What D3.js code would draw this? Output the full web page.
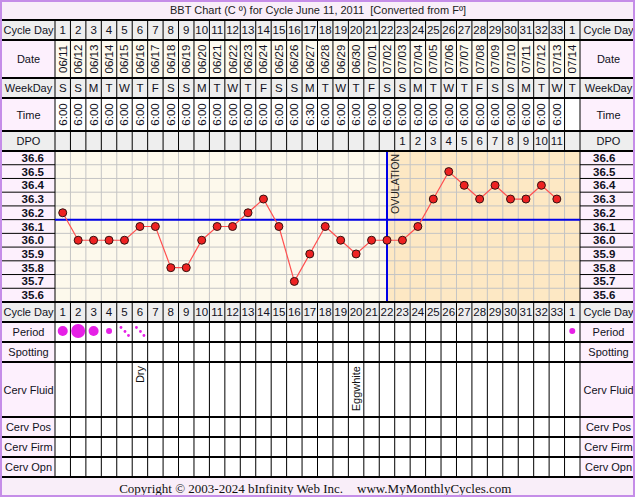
<!DOCTYPE html>
<html><head><meta charset="utf-8">
<script src="https://cdn.jsdelivr.net/npm/d3@7"></script>
<style>body{margin:0;background:#fff}svg{display:block}text{font-family:"Liberation Sans",Arial,sans-serif;white-space:pre}</style>
</head><body>
<script>
const cycleDays = ["1","2","3","4","5","6","7","8","9","10","11","12","13","14","15","16","17","18","19","20","21","22","23","24","25","26","27","28","29","30","31","32","33","1"];
const dates = ["06/11","06/12","06/13","06/14","06/15","06/16","06/17","06/18","06/19","06/20","06/21","06/22","06/23","06/24","06/25","06/26","06/27","06/28","06/29","06/30","07/01","07/02","07/03","07/04","07/05","07/06","07/07","07/08","07/09","07/10","07/11","07/12","07/13","07/14"];
const weekdays = ["S","S","M","T","W","T","F","S","S","M","T","W","T","F","S","S","M","T","W","T","F","S","S","M","T","W","T","F","S","S","M","T","W","T"];
const times = ["6:00","6:00","6:00","6:00","6:00","6:00","6:00","6:00","6:00","6:00","6:00","6:00","6:00","6:00","6:00","6:00","6:30","6:00","6:00","6:00","6:00","6:00","6:00","6:00","6:00","6:00","6:00","6:00","6:00","6:00","6:00","6:00","6:00",""];
const dpo = ["","","","","","","","","","","","","","","","","","","","","","","1","2","3","4","5","6","7","8","9","10","11",""];
const temps = [36.2,36.0,36.0,36.0,36.0,36.1,36.1,35.8,35.8,36.0,36.1,36.1,36.2,36.3,36.1,35.7,35.9,36.1,36.0,35.9,36.0,36.0,36.0,36.1,36.3,36.5,36.4,36.3,36.4,36.3,36.3,36.4,36.3,null];
const tempTicks = [36.6,36.5,36.4,36.3,36.2,36.1,36.0,35.9,35.8,35.7,35.6];
const period = ["medium","heavy","medium","light","spot","spot","","","","","","","","","","","","","","","","","","","","","","","","","","","","light"];
const cervFluid = ["","","","","","Dry","","","","","","","","","","","","","","Eggwhite","","","","","","","","","","","","","",""];
const coverline = 36.15;
const ovulationIndex = 21;
const titleText = "BBT Chart (C º) for Cycle June 11, 2011  [Converted from Fº]";
const footerLeft = "Copyright © 2003-2024 bInfinity Web Inc.";
const footerRight = "www.MyMonthlyCycles.com";

const W = 635, H = 497;
const L = 55, R = 580;
const svg = d3.select("body").append("svg").attr("width", W).attr("height", H);
const idx = d3.range(cycleDays.length);
const x = d3.scaleBand().domain(idx).range([L, R]);
const cw = x.bandwidth();
const cx = i => x(i) + cw / 2;
const chartTop = 151, chartBot = 302;
const y = d3.scaleLinear().domain([35.55, 36.65]).range([chartBot, chartTop]);

const PINK = "#fdf0fd", GRAY = "#eeeeee", CREAM = "#fdfaef", TXT = "#111122";

svg.append("rect").attr("width", W).attr("height", H).attr("fill", "#fff");
svg.append("rect").attr("x", 0).attr("y", 0).attr("width", W).attr("height", 20).attr("fill", "#f9eef9");
svg.append("rect").attr("x", 0).attr("y", 477).attr("width", W).attr("height", 20).attr("fill", "#f9eef9");

const rows = [
  {key:"cd", label:"Cycle Day", y0:20, y1:40, lab:GRAY, cell:GRAY, vals:cycleDays},
  {key:"date", label:"Date", y0:40, y1:78, lab:PINK, cell:CREAM, vals:dates, rot:true},
  {key:"wd", label:"WeekDay", y0:78, y1:98, lab:GRAY, cell:GRAY, vals:weekdays},
  {key:"time", label:"Time", y0:98, y1:131, lab:PINK, cell:"#fff", vals:times, rot:true},
  {key:"dpo", label:"DPO", y0:131, y1:151, lab:GRAY, cell:GRAY, vals:dpo},
  {key:"cd2", label:"Cycle Day", y0:302, y1:322, lab:GRAY, cell:GRAY, vals:cycleDays},
  {key:"per", label:"Period", y0:322, y1:342, lab:PINK, cell:"#fff"},
  {key:"spot", label:"Spotting", y0:342, y1:362, lab:PINK, cell:"#fff"},
  {key:"fl", label:"Cerv Fluid", y0:362, y1:417, lab:PINK, cell:"#fff"},
  {key:"pos", label:"Cerv Pos", y0:417, y1:437, lab:PINK, cell:"#fff"},
  {key:"firm", label:"Cerv Firm", y0:437, y1:457, lab:PINK, cell:"#fff"},
  {key:"opn", label:"Cerv Opn", y0:457, y1:477, lab:PINK, cell:"#fff"}
];

rows.forEach(r => {
  const g = svg.append("g");
  const h = r.y1 - r.y0;
  g.append("rect").attr("x", 0).attr("y", r.y0).attr("width", L).attr("height", h).attr("fill", r.lab);
  g.append("rect").attr("x", R).attr("y", r.y0).attr("width", W - R).attr("height", h).attr("fill", r.lab);
  g.append("rect").attr("x", L).attr("y", r.y0).attr("width", R - L).attr("height", h).attr("fill", r.cell);
  [L / 2 + 1, (R + W) / 2 + 1].forEach(tx => g.append("text").attr("x", tx).attr("y", (r.y0 + r.y1) / 2 + 4)
    .attr("text-anchor", "middle").attr("font-size", 11).attr("fill", TXT).text(r.label));
  g.selectAll("line.v").data(d3.range(cycleDays.length + 1)).join("line")
    .attr("x1", i => i < cycleDays.length ? x(i) : R).attr("x2", i => i < cycleDays.length ? x(i) : R)
    .attr("y1", r.y0).attr("y2", r.y1).attr("stroke", "#000").attr("stroke-width", 1);
  if (r.vals) {
    g.selectAll("text.v").data(r.vals).join("text")
      .attr("font-size", 11.5).attr("fill", TXT)
      .attr("text-anchor", "middle")
      .attr("transform", (d, i) => r.rot ? `translate(${cx(i) + 4},${(r.y0 + r.y1) / 2}) rotate(-90)` : `translate(${cx(i)},${(r.y0 + r.y1) / 2 + 4})`)
      .text(d => d);
  }
});

const chart = svg.append("g");
chart.append("rect").attr("x", L).attr("y", chartTop).attr("width", R - L).attr("height", chartBot - chartTop).attr("fill", "#fdf9ec");
chart.append("rect").attr("x", cx(ovulationIndex)).attr("y", chartTop).attr("width", R - cx(ovulationIndex)).attr("height", chartBot - chartTop).attr("fill", "#fde8c4");
chart.append("rect").attr("x", 0).attr("y", chartTop).attr("width", L).attr("height", chartBot - chartTop).attr("fill", PINK);
chart.append("rect").attr("x", R).attr("y", chartTop).attr("width", W - R).attr("height", chartBot - chartTop).attr("fill", PINK);
chart.selectAll("line.gv").data(d3.range(1, cycleDays.length)).join("line")
  .attr("x1", i => x(i)).attr("x2", i => x(i)).attr("y1", chartTop).attr("y2", chartBot)
  .attr("stroke", "#c4c4c4").attr("stroke-width", 1);
const bounds = d3.range(1, tempTicks.length).map(i => (tempTicks[i - 1] + tempTicks[i]) / 2);
chart.selectAll("line.gh").data(bounds).join("line")
  .attr("x1", L).attr("x2", R).attr("y1", d => y(d)).attr("y2", d => y(d))
  .attr("stroke", "#c4c4c4").attr("stroke-width", 1);
chart.selectAll("line.gl").data(bounds).join("line")
  .attr("x1", 0).attr("x2", L).attr("y1", d => y(d)).attr("y2", d => y(d)).attr("stroke", "#000");
chart.selectAll("line.gr").data(bounds).join("line")
  .attr("x1", R).attr("x2", W).attr("y1", d => y(d)).attr("y2", d => y(d)).attr("stroke", "#000");
chart.append("line").attr("x1", L).attr("x2", L).attr("y1", chartTop).attr("y2", chartBot).attr("stroke", "#000");
chart.append("line").attr("x1", R).attr("x2", R).attr("y1", chartTop).attr("y2", chartBot).attr("stroke", "#000");
chart.selectAll("text.tl").data(tempTicks).join("text")
  .attr("x", 44).attr("y", d => y(d) + 4).attr("text-anchor", "end").attr("font-size", 11.5).attr("font-weight", "bold").attr("fill", TXT).text(d => d.toFixed(1));
chart.selectAll("text.tr").data(tempTicks).join("text")
  .attr("x", 593).attr("y", d => y(d) + 4).attr("text-anchor", "start").attr("font-size", 11.5).attr("font-weight", "bold").attr("fill", TXT).text(d => d.toFixed(1));
chart.append("line").attr("x1", L).attr("x2", R).attr("y1", y(coverline)).attr("y2", y(coverline)).attr("stroke", "#0000e6").attr("stroke-width", 2);
chart.append("line").attr("x1", cx(ovulationIndex)).attr("x2", cx(ovulationIndex)).attr("y1", chartTop).attr("y2", chartBot).attr("stroke", "#0000e6").attr("stroke-width", 2);
chart.append("text").attr("transform", `translate(${cx(ovulationIndex) + 12},${chartTop + 3}) rotate(-90)`)
  .attr("text-anchor", "end").attr("font-size", 10.5).attr("fill", "#222").text("OVULATION");
const pts = temps.map((t, i) => ({t, i})).filter(d => d.t != null);
chart.append("path").datum(pts)
  .attr("d", d3.line().x(d => cx(d.i)).y(d => y(d.t)))
  .attr("fill", "none").attr("stroke", "#ff5050").attr("stroke-width", 1.2);
chart.selectAll("circle.p").data(pts).join("circle")
  .attr("cx", d => cx(d.i)).attr("cy", d => y(d.t)).attr("r", 4)
  .attr("fill", "#ee2222").attr("stroke", "#331111").attr("stroke-width", 1);

const pg = svg.append("g");
const pr = {heavy: 7, medium: 5, light: 3};
period.forEach((p, i) => {
  if (pr[p]) {
    pg.append("circle").attr("cx", cx(i)).attr("cy", 331).attr("r", pr[p]).attr("fill", "#e620e6");
  } else if (p === "spot") {
    [[-3.5, -3.5], [0.5, 0.5], [4, 4.5]].forEach(o =>
      pg.append("circle").attr("cx", cx(i) + o[0]).attr("cy", 331 + o[1]).attr("r", 1.4).attr("fill", "#e620e6"));
  }
});
svg.selectAll("text.cf").data(cervFluid).join("text")
  .attr("transform", (d, i) => `translate(${cx(i) + 4},366) rotate(-90)`)
  .attr("text-anchor", "end").attr("font-size", 11).attr("fill", "#111").text(d => d);

const seps = [20, 40, 78, 98, 131, 151, 302, 322, 342, 362, 417, 437, 457, 477];
svg.selectAll("line.sep").data(seps).join("line")
  .attr("x1", 0).attr("x2", W).attr("y1", d => d).attr("y2", d => d)
  .attr("stroke", "#000").attr("stroke-width", 2);

svg.append("text").attr("x", 318).attr("y", 14).attr("text-anchor", "middle").attr("font-size", 11)
  .attr("xml:space", "preserve").attr("fill", "#222").text(titleText);
svg.append("text").attr("x", 343).attr("y", 493).attr("text-anchor", "end").attr("font-size", 13)
  .style("font-family", "'Liberation Serif','DejaVu Serif',serif").attr("fill", "#111").text(footerLeft);
svg.append("text").attr("x", 357).attr("y", 493).attr("text-anchor", "start").attr("font-size", 13)
  .style("font-family", "'Liberation Serif','DejaVu Serif',serif").attr("fill", "#111").text(footerRight);

svg.append("rect").attr("x", 1).attr("y", 1).attr("width", W - 2).attr("height", H - 2)
  .attr("fill", "none").attr("stroke", "#c58de8").attr("stroke-width", 2);
</script>
</body></html>
